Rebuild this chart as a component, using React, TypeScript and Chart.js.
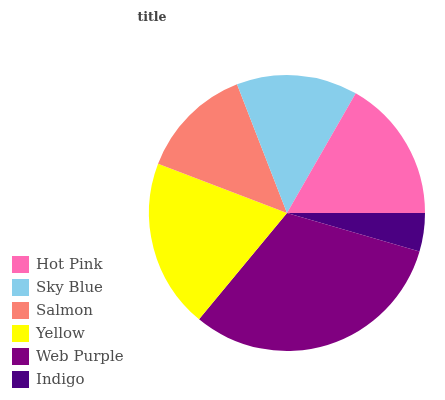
import React, { useEffect, useRef } from "react";
import { Chart, registerables } from "chart.js";

Chart.register(...registerables);

const categories = ["Hot Pink", "Sky Blue", "Salmon", "Yellow", "Web Purple", "Indigo"];
const values = [16.7, 14.2, 13.3, 19.8, 31.5, 4.5];
const colors = ["#FF69B4", "#87CEEB", "#FA8072", "#FFFF00", "#800080", "#4B0082"];
const titleText = "title";

const overlayPlugin = {
  id: "overlay",
  afterDraw(chart: any) {
    const ctx = chart.ctx;
    ctx.save();
    ctx.fillStyle = "#444444";
    ctx.font = "bold 12.5px 'DejaVu Serif'";
    ctx.textAlign = "center";
    ctx.textBaseline = "middle";
    ctx.fillText(titleText, 152, 18);
    ctx.font = "15px 'DejaVu Serif'";
    ctx.textAlign = "left";
    ctx.fillStyle = "#4d4d4d";
    categories.forEach((c, i) => {
      const y = 256 + i * 23;
      ctx.fillStyle = colors[i];
      ctx.fillRect(12, y, 17, 17);
      ctx.fillStyle = "#4d4d4d";
      ctx.fillText(c, 36, y + 9);
    });
    ctx.restore();
  },
};

export default function App() {
  const ref = useRef<HTMLCanvasElement>(null);
  useEffect(() => {
    document.body.style.margin = "0";
    const rev = (a: any[]) => a.slice().reverse();
    const chart = new Chart(ref.current!, {
      type: "pie",
      data: {
        labels: rev(categories),
        datasets: [
          {
            data: rev(values),
            backgroundColor: rev(colors),
            borderWidth: 0,
          },
        ],
      },
      options: {
        animation: false,
        responsive: false,
        rotation: 90,
        layout: { padding: { top: 75, bottom: 49, left: 149, right: 20 } },
        plugins: {
          legend: { display: false },
          title: { display: false },
          tooltip: { enabled: false },
        },
      },
      plugins: [overlayPlugin],
    });
    return () => chart.destroy();
  }, []);
  return (
    <div style={{ width: 445, height: 400 }}>
      <canvas ref={ref} width={445} height={400} style={{ display: "block" }} />
    </div>
  );
}
